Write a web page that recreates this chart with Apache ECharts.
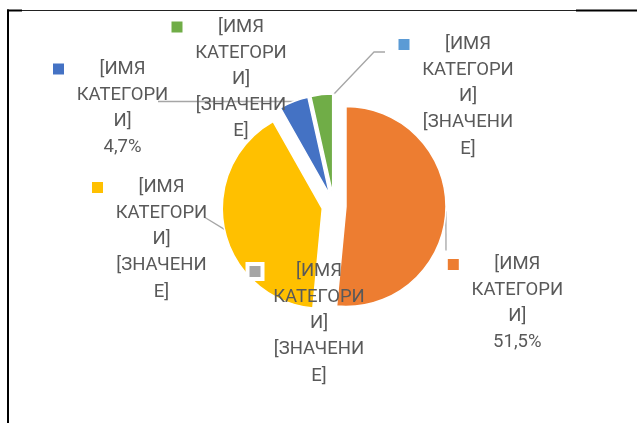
<!DOCTYPE html>
<html>
<head>
<meta charset="utf-8">
<script src="https://cdn.jsdelivr.net/npm/echarts@6/dist/echarts.min.js"></script>
<style>html,body{margin:0;padding:0;background:#fff}#c{width:637px;height:423px}</style>
</head>
<body>
<div id="c"></div>
<script>
// ---- data ----
const categories = ['[ИМЯ КАТЕГОРИИ]', '[ИМЯ КАТЕГОРИИ]', '[ИМЯ КАТЕГОРИИ]', '[ИМЯ КАТЕГОРИИ]', '[ИМЯ КАТЕГОРИИ]', '[ИМЯ КАТЕГОРИИ]'];
const values = [51.5, 0, 40.3, 4.7, 3.5, 0];
const valueLabels = ['51,5%', '[ЗНАЧЕНИЕ]', '[ЗНАЧЕНИЕ]', '4,7%', '[ЗНАЧЕНИЕ]', '[ЗНАЧЕНИЕ]'];
const colors = ['#ED7D31', '#A5A5A5', '#FFC000', '#4472C4', '#70AD47', '#5B9BD5'];

// ---- layout (not data) ----
const CX = 334, CY = 206, R = 100, EXPLODE = 12, LINE_H = 26.1;
const FONT = 'Roboto, "Noto Sans", sans-serif';
const FONT_SIZE = 18.5;
const TEXT_COLOR = '#595959';
const KEY_W = 11, GAP = 8.5, TEXT_W = 100;
const keyPos = [[453.3, 264.5], [255, 271.5], [97.5, 187.5], [58.5, 69], [177, 27], [404, 44.5]];
const leaderEnds = [[[446, 250.5]], null, [[205, 217.5]], [[158, 101.5]], null, [[374, 52], [385, 52]]];

function wrap(text, max) {
  const out = [];
  text.split(' ').forEach(function (w) {
    while (w.length > max) { out.push(w.slice(0, max)); w = w.slice(max); }
    out.push(w);
  });
  return out;
}

const total = values.reduce(function (a, b) { return a + b; }, 0);
const midAngles = [];
(function () {
  let cum = 0;
  values.forEach(function (v) { midAngles.push((cum + v / 2) / total * 2 * Math.PI); cum += v; });
})();

const rich = {
  w: { width: TEXT_W, align: 'center', fontSize: FONT_SIZE, fontFamily: FONT, color: TEXT_COLOR, lineHeight: LINE_H },
  s: { width: KEY_W + GAP, lineHeight: LINE_H },
  p: { width: GAP, lineHeight: LINE_H }
};
colors.forEach(function (c, i) {
  rich['k' + i] = { width: KEY_W, height: KEY_W, backgroundColor: c, borderColor: '#fff', borderWidth: 4, lineHeight: LINE_H };
});

function labelText(i) {
  const lines = wrap(categories[i], 8).concat(wrap(valueLabels[i], 8));
  return lines.map(function (l, j) {
    return (j === 0 ? '{k' + i + '|}{p|}' : '{s|}') + '{w|' + l + '}';
  }).join('\n');
}

// one exploded pie layer per slice: each layer draws the full data through the
// library's angle scale, but only its own slice is visible.
const series = values.map(function (_, i) {
  const a = midAngles[i];
  return {
    type: 'pie',
    silent: true,
    center: [CX + EXPLODE * Math.sin(a), CY - EXPLODE * Math.cos(a)],
    radius: R,
    startAngle: 90,
    clockwise: true,
    avoidLabelOverlap: false,
    minShowLabelAngle: 0,
    stillShowZeroSum: true,
    z: i === 1 ? 3 : 2,
    emphasis: { disabled: true },
    label: {
      show: true,
      position: 'outside',
      align: 'left',
      fontSize: FONT_SIZE,
      fontFamily: FONT,
      color: TEXT_COLOR,
      lineHeight: LINE_H,
      rich: rich,
      formatter: function (p) { return labelText(p.dataIndex); }
    },
    labelLine: { show: true, lineStyle: { color: '#A6A6A6', width: 1.3 } },
    labelLayout: function (params) {
      const k = params.dataIndex;
      const res = {
        x: keyPos[k][0] - KEY_W / 2,
        y: keyPos[k][1] - LINE_H / 2,
        align: 'left',
        verticalAlign: 'top'
      };
      if (leaderEnds[k]) {
        const am = midAngles[k];
        const ax = CX + (R + EXPLODE) * Math.sin(am);
        const ay = CY - (R + EXPLODE) * Math.cos(am);
        res.labelLinePoints = [[ax, ay]].concat(leaderEnds[k]);
      }
      return res;
    },
    data: values.map(function (v, j) {
      const own = j === i;
      return {
        name: categories[j],
        value: v,
        itemStyle: own ? { color: colors[j], borderColor: '#fff', borderWidth: 1.5 }
                       : { color: 'rgba(0,0,0,0)', borderWidth: 0 },
        label: { show: own },
        labelLine: { show: own && !!leaderEnds[j] }
      };
    })
  };
});

const chart = echarts.init(document.getElementById('c'), null, { renderer: 'canvas' });
chart.setOption({
  animation: false,
  backgroundColor: '#fff',
  graphic: [
    { type: 'line', shape: { x1: 7, y1: 10.5, x2: 22, y2: 10.5 }, style: { stroke: '#000', lineWidth: 2 } },
    { type: 'line', shape: { x1: 22, y1: 10.5, x2: 576, y2: 10.5 }, style: { stroke: '#222', lineWidth: 1 } },
    { type: 'line', shape: { x1: 576, y1: 10.5, x2: 637, y2: 10.5 }, style: { stroke: '#000', lineWidth: 2 } },
    { type: 'line', shape: { x1: 8, y1: 9.5, x2: 8, y2: 423 }, style: { stroke: '#000', lineWidth: 2 } }
  ],
  series: series
});
</script>
</body>
</html>
